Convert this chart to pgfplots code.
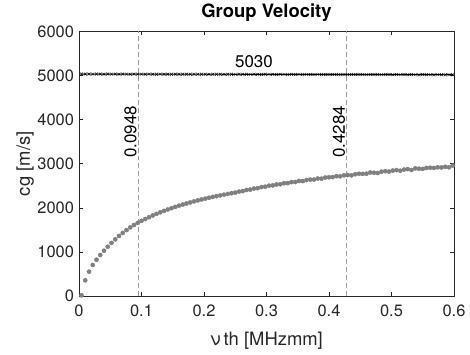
\documentclass[border=0pt]{standalone}
\usepackage{fontspec}
\setmainfont{TeX Gyre Heros}
\usepackage{pgfplots}
\usepackage{pgfplotstable}
\pgfplotsset{compat=1.18}
\definecolor{axgray}{gray}{0.15}
\definecolor{dotgray}{gray}{0.5}
\definecolor{dashgray}{gray}{0.6}
\pgfplotstableread{
x cg cp
0.004 15 5035
0.010 356 5034
0.016 551 5036
0.022 703 5033
0.028 823 5035
0.034 930 5034
0.040 1027 5032
0.046 1118 5035
0.052 1205 5033
0.058 1286 5034
0.064 1361 5032
0.070 1430 5034
0.076 1495 5033
0.082 1556 5031
0.088 1610 5034
0.094 1658 5032
0.100 1703 5033
0.106 1746 5031
0.112 1787 5033
0.118 1826 5032
0.124 1863 5030
0.130 1898 5033
0.136 1931 5031
0.142 1962 5032
0.148 1992 5030
0.154 2021 5032
0.160 2048 5031
0.166 2074 5029
0.172 2099 5032
0.178 2123 5030
0.184 2146 5031
0.190 2168 5029
0.196 2189 5031
0.202 2209 5030
0.208 2228 5028
0.214 2247 5031
0.220 2265 5029
0.226 2282 5030
0.232 2299 5028
0.238 2315 5030
0.244 2331 5029
0.250 2345 5027
0.256 2368 5030
0.262 2380 5028
0.268 2405 5029
0.274 2414 5027
0.280 2437 5029
0.286 2447 5028
0.292 2470 5026
0.298 2480 5029
0.304 2502 5027
0.310 2508 5028
0.316 2530 5026
0.322 2535 5028
0.328 2558 5027
0.334 2560 5025
0.340 2584 5028
0.346 2585 5026
0.352 2608 5027
0.358 2606 5025
0.364 2630 5027
0.370 2640 5026
0.376 2641 5024
0.382 2665 5027
0.388 2662 5025
0.394 2686 5026
0.400 2693 5024
0.406 2696 5026
0.412 2718 5025
0.418 2715 5023
0.424 2738 5026
0.430 2745 5024
0.436 2736 5025
0.442 2762 5023
0.448 2772 5025
0.454 2770 5024
0.460 2775 5022
0.466 2802 5025
0.472 2796 5023
0.478 2790 5024
0.484 2820 5022
0.490 2830 5024
0.496 2822 5023
0.502 2845 5021
0.508 2856 5024
0.514 2842 5022
0.520 2868 5023
0.526 2878 5021
0.532 2858 5023
0.538 2895 5022
0.544 2888 5020
0.550 2884 5023
0.556 2905 5021
0.562 2910 5022
0.568 2905 5020
0.574 2920 5022
0.580 2915 5021
0.586 2930 5019
0.592 2920 5022
0.598 2958 5020
}\datatable
\begin{document}
\begin{tikzpicture}
\begin{axis}[
  at={(0,0)}, anchor=south west,
  scale only axis, width=375bp, height=264.5bp,
  xmin=0, xmax=0.6, ymin=0, ymax=6000,
  xtick={0,0.1,...,0.6},
  xticklabels={0,0.1,0.2,0.3,0.4,0.5,0.6},
  ytick={0,1000,...,6000},
  scaled y ticks=false,
  /pgf/number format/assume math mode=true,
  yticklabel style={/pgf/number format/1000 sep={}, xshift=-1.5bp},
  xticklabel style={yshift=-5bp},
  tick align=inside,
  major tick length=4bp,
  axis line style={axgray, line width=0.6pt},
  every tick/.style={axgray, line width=0.6pt},
  tick label style={font=\fontsize{16.5}{18}\selectfont, text=axgray},
  label style={font=\fontsize{18.5}{20}\selectfont, text=axgray},
  title style={font=\bfseries\fontsize{18.5}{20}\selectfont, at={(axis description cs:0.5,1.032)}, anchor=base},
  title={Group Velocity},
  xlabel={ν\kern3pt th [MHzmm]},
  ylabel={cg [m/s]},
  xlabel style={at={(axis description cs:0.5,-0.1853)}, anchor=base},
  ylabel style={at={(axis description cs:-0.1307,0.5)}, anchor=base},
  clip=false,
]
\addplot[dashgray, dash pattern=on 5pt off 3pt, line width=0.7pt] coordinates {(0.0948,0) (0.0948,6000)};
\addplot[dashgray, dash pattern=on 5pt off 3pt, line width=0.7pt] coordinates {(0.4284,0) (0.4284,6000)};
\addplot[black, line width=0.9pt, mark=x, mark size=2pt, mark options={solid, line width=0.5pt}] table[x=x, y=cp] {\datatable};
\addplot[only marks, mark=*, mark size=2.1pt, dotgray, mark options={draw=none, fill=dotgray}] table[x=x, y=cg] {\datatable};
\node[rotate=90, anchor=south east, inner sep=1.5pt, font=\fontsize{17}{19}\selectfont] at (axis cs:0.0948,4350) {0.0948};
\node[rotate=90, anchor=south east, inner sep=1.5pt, font=\fontsize{17}{19}\selectfont] at (axis cs:0.4284,4350) {0.4284};
\node[anchor=south, inner sep=0pt, font=\fontsize{17}{19}\selectfont] at (axis cs:0.28,5170) {5030};
\end{axis}
\path[use as bounding box] (-79bp,-59bp) rectangle (391bp,291bp);
\end{tikzpicture}
\end{document}
